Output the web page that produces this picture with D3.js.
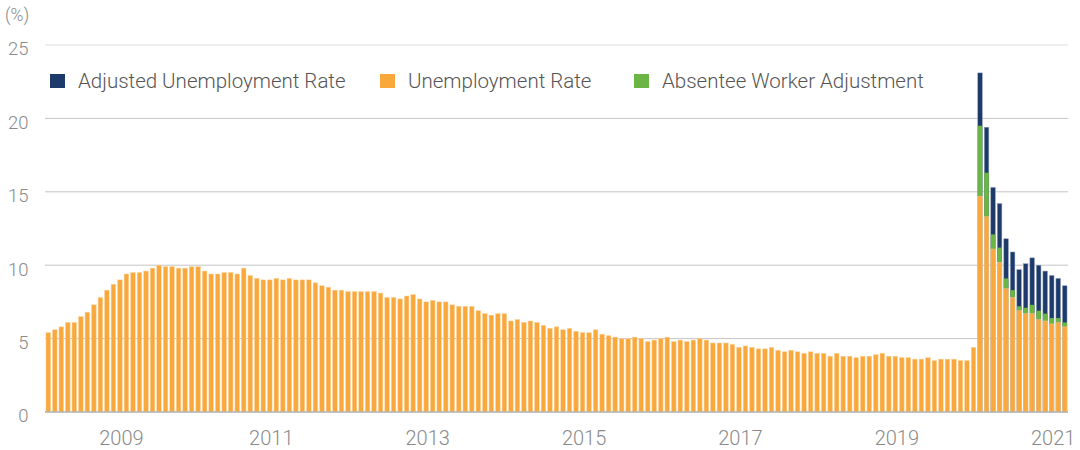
<!DOCTYPE html>
<html><head><meta charset="utf-8">
<script src="https://cdn.jsdelivr.net/npm/d3@7"></script>
<style>
body{margin:0;background:#fff}
text{font-family:Roboto,"Liberation Sans",sans-serif;font-weight:300}
</style>
</head><body>
<svg id="chart" width="1080" height="450"></svg>
<script>
// ---- data ----
const startMonth = "2008-05";
const unemployment = [
  5.4, 5.6, 5.8, 6.1, 6.1, 6.5, 6.8, 7.3,
  7.8, 8.3, 8.7, 9.0, 9.4, 9.5, 9.5, 9.6, 9.8, 10.0, 9.9, 9.9,
  9.8, 9.8, 9.9, 9.9, 9.6, 9.4, 9.4, 9.5, 9.5, 9.4, 9.8, 9.3,
  9.1, 9.0, 9.0, 9.1, 9.0, 9.1, 9.0, 9.0, 9.0, 8.8, 8.6, 8.5,
  8.3, 8.3, 8.2, 8.2, 8.2, 8.2, 8.2, 8.1, 7.8, 7.8, 7.7, 7.9,
  8.0, 7.7, 7.5, 7.6, 7.5, 7.5, 7.3, 7.2, 7.2, 7.2, 6.9, 6.7,
  6.6, 6.7, 6.7, 6.2, 6.3, 6.1, 6.2, 6.1, 5.9, 5.7, 5.8, 5.6,
  5.7, 5.5, 5.4, 5.4, 5.6, 5.3, 5.2, 5.1, 5.0, 5.0, 5.1, 5.0,
  4.8, 4.9, 5.0, 5.1, 4.8, 4.9, 4.8, 4.9, 5.0, 4.9, 4.7, 4.7,
  4.7, 4.6, 4.4, 4.5, 4.4, 4.3, 4.3, 4.4, 4.2, 4.1, 4.2, 4.1,
  4.0, 4.1, 4.0, 4.0, 3.8, 4.0, 3.8, 3.8, 3.7, 3.8, 3.8, 3.9,
  4.0, 3.8, 3.8, 3.7, 3.7, 3.6, 3.6, 3.7, 3.5, 3.6, 3.6, 3.6,
  3.5, 3.5, 4.4, 14.7, 13.3, 11.1, 10.2, 8.4, 7.8, 6.9, 6.7, 6.7,
  6.3, 6.2, 6.0, 6.1, 5.8
];
const adjStartMonth = "2020-04";
const absenteeAdjustment = [4.8, 3.0, 1.0, 1.0, 0.7, 0.5, 0.3, 0.4, 0.6, 0.6, 0.5, 0.4, 0.3, 0.3];
const adjustedRate = [23.1, 19.4, 15.3, 14.2, 11.8, 10.9, 9.7, 10.1, 10.5, 10.0, 9.6, 9.3, 9.1, 8.6];
const yTicks = [0, 5, 10, 15, 20, 25];
const xTickLabels = ["2009", "2011", "2013", "2015", "2017", "2019", "2021"];
const xTickMonths = ["2009-04", "2011-03", "2013-03", "2015-03", "2017-03", "2019-03", "2021-03"];
const seriesNames = ["Adjusted Unemployment Rate", "Unemployment Rate", "Absentee Worker Adjustment"];
const seriesColors = ["#1d3a6b", "#f9a83b", "#6bb545"];
const yUnit = "(%)";

// ---- build ----
const parse = d3.timeParse("%Y-%m");
const fmt = d3.timeFormat("%Y-%m");
const start = parse(startMonth);
const months = unemployment.map((v, i) => fmt(d3.timeMonth.offset(start, i)));
const adjStartIdx = months.indexOf(adjStartMonth);
const rows = months.map((m, i) => {
  const j = i - adjStartIdx;
  const has = j >= 0 && j < adjustedRate.length;
  return {m, u: unemployment[i], a: has ? absenteeAdjustment[j] : null, adj: has ? adjustedRate[j] : null};
});

const svg = d3.select("#chart");
const plotLeft = 45, plotRight = 1068, plotTop = 45, plotBottom = 412;
const x = d3.scaleBand().domain(months).range([plotLeft, plotRight]).paddingInner(0.3).paddingOuter(0.15);
const y = d3.scaleLinear().domain([0, 25]).range([plotBottom, plotTop]);

// grid
svg.append("g").selectAll("line").data(yTicks.filter(t => t > 0)).join("line")
  .attr("x1", plotLeft).attr("x2", plotRight)
  .attr("y1", d => y(d)).attr("y2", d => y(d))
  .attr("stroke", d => d === 25 ? "#dedede" : "#c4c4c4").attr("stroke-width", 1);

// y labels
svg.append("g").selectAll("text").data(yTicks).join("text")
  .attr("x", 28.5).attr("y", d => y(d) + 4).attr("dy", "0.35em")
  .attr("text-anchor", "end").attr("font-size", 18.5).attr("fill", "#8a8a8a")
  .text(d => d);
svg.append("text").attr("x", 5).attr("y", 21).attr("font-size", 17.5).attr("fill", "#8a8a8a").text(yUnit);

// bars
const bw = x.bandwidth();
const adjRows = rows.filter(r => r.adj !== null);
svg.append("g").selectAll("rect").data(adjRows).join("rect")
  .attr("x", d => x(d.m)).attr("width", bw)
  .attr("y", d => y(d.adj)).attr("height", d => y(0) - y(d.adj))
  .attr("fill", seriesColors[0]).attr("stroke", "#8fa0bb").attr("stroke-width", 0.5);
svg.append("g").selectAll("rect").data(adjRows).join("rect")
  .attr("x", d => x(d.m)).attr("width", bw)
  .attr("y", d => y(d.u + d.a)).attr("height", d => y(d.u) - y(d.u + d.a))
  .attr("fill", seriesColors[2]);
svg.append("g").selectAll("rect").data(rows).join("rect")
  .attr("x", d => x(d.m)).attr("width", bw)
  .attr("y", d => y(d.u)).attr("height", d => y(0) - y(d.u))
  .attr("fill", seriesColors[1]).attr("stroke", "#fcd29b").attr("stroke-width", 0.5);

// baseline
svg.append("line").attr("x1", plotLeft).attr("x2", plotRight).attr("y1", y(0)).attr("y2", y(0))
  .attr("stroke", "#b0b0b0").attr("stroke-width", 1.5);

// x labels
svg.append("g").selectAll("text").data(xTickLabels).join("text")
  .attr("x", (d, i) => x(xTickMonths[i]) + bw / 2 + 1.5).attr("y", 445)
  .attr("text-anchor", "middle").attr("font-size", 20).attr("fill", "#8a8a8a")
  .text(d => d);

// legend
const legX = [50, 380, 634];
const leg = svg.append("g").selectAll("g").data(seriesNames).join("g")
  .attr("transform", (d, i) => `translate(${legX[i]},74)`);
leg.append("rect").attr("width", 15).attr("height", 14).attr("fill", (d, i) => seriesColors[i]);
leg.append("text").attr("x", 28).attr("y", 14).attr("font-size", 20.5).attr("fill", "#555")
  .text(d => d);
</script>
</body></html>
